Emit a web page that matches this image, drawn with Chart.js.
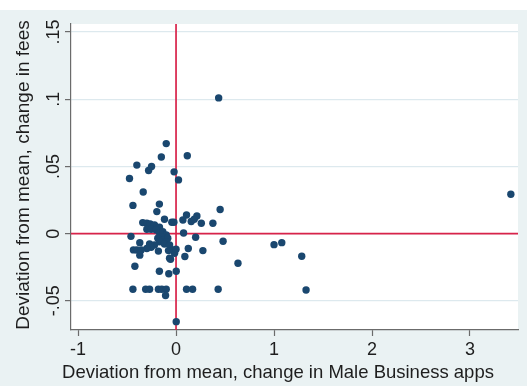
<!DOCTYPE html>
<html>
<head>
<meta charset="utf-8">
<script src="https://cdn.jsdelivr.net/npm/chart.js@4.4.1/dist/chart.umd.min.js"></script>
<style>
  html, body { margin: 0; padding: 0; background: #eaf2f3; }
  #wrap { width: 527px; height: 386px; position: relative; }
</style>
</head>
<body>
<div id="wrap"><canvas id="c" width="527" height="386"></canvas></div>
<script>
// Deviation from mean: change in Male Business apps (x) vs change in fees (y)
const devApps = [
  0.435, 0.115, -0.10, -0.15, -0.40, -0.25, -0.28, -0.02, 0.025, -0.475,
  -0.335, -0.44, -0.17, -0.196, 0.45, -0.118, -0.043, -0.022, 0.107, 0.07,
  0.155, 0.213, 0.186, 0.258, 0.376,
  -0.34, -0.298, -0.264, -0.22, -0.169, -0.298, -0.254, -0.203, -0.169, -0.135,
  -0.10, -0.151, -0.186, -0.135, -0.084, -0.10, -0.169, -0.22, -0.27, -0.254,
  -0.298, -0.118, -0.066, -0.033, -0.015, -0.066,
  -0.46, 0.077, 0.2, 0.48, -0.37, -0.435, -0.40, -0.356, -0.37, -0.18,
  -0.077, 0.0, 0.125, 0.274, -0.056, 0.09, 0.632, -0.42, -0.17, -0.074, 0.002,
  -0.44, -0.31, -0.27, -0.18, -0.145, -0.10, 0.107, 0.169, 0.43, -0.107, 0.002,
  1.0, 1.079, 1.283, 1.327, 3.417
];
const devFees = [
  0.101, 0.058, 0.067, 0.057, 0.051, 0.050, 0.047, 0.046, 0.040, 0.041,
  0.031, 0.021, 0.022, 0.0164, 0.018, 0.0107, 0.0085, 0.0085, 0.0139, 0.0102,
  0.009, 0.0132, 0.0107, 0.0077, 0.0077,
  0.0082, 0.0077, 0.0072, 0.0065, 0.0048, 0.0033, 0.0033, 0.0028, 0.0007, 0.0015,
  -0.001, -0.0022, -0.0034, -0.0047, -0.0034, -0.006, -0.006, -0.0084, -0.0077, -0.0101,
  -0.011, -0.0077, -0.0084, -0.0121, -0.0146, -0.0183,
  -0.002, 0.0005, -0.0027, -0.0057, -0.0067, -0.0121, -0.0121, -0.0121, -0.016, -0.013,
  -0.0126, -0.0116, -0.011, -0.0126, -0.019, -0.017, -0.022, -0.0243, -0.028, -0.0298, -0.028,
  -0.0414, -0.0414, -0.0414, -0.0414, -0.0414, -0.0414, -0.0414, -0.0414, -0.0414, -0.046, -0.0655,
  -0.0082, -0.0067, -0.0168, -0.0419, 0.0293
];
const xTicks = [-1, 0, 1, 2, 3];
const xTickLabels = ['-1', '0', '1', '2', '3'];
const yTicks = [-0.05, 0, 0.05, 0.1, 0.15];
const yTickLabels = ['-.05', '0', '.05', '.1', '.15'];
const xTitle = 'Deviation from mean, change in Male Business apps';
const yTitle = 'Deviation from mean, change in fees';

const points = devApps.map((x, i) => ({ x: x, y: devFees[i] }));

const BG = '#eaf2f3';
const AXIS = '#6b6b6b';
const REF = '#d8234a';
const TEXT = '#1e1e1e';
const FONT = '"Liberation Sans", Arial, sans-serif';

const decor = {
  id: 'decor',
  beforeDraw(chart) {
    const { ctx, chartArea: a } = chart;
    ctx.save();
    ctx.fillStyle = BG;
    ctx.fillRect(0, 0, chart.width, chart.height);
    ctx.fillStyle = '#ffffff';
    ctx.fillRect(0, 0, chart.width, 10);
    ctx.fillRect(a.left, a.top, a.right - a.left, a.bottom - a.top);
    ctx.restore();
  },
  beforeDatasetsDraw(chart) {
    const { ctx, chartArea: a, scales } = chart;
    const x0 = scales.x.getPixelForValue(0);
    const y0 = scales.y.getPixelForValue(0);
    ctx.save();
    ctx.strokeStyle = REF;
    ctx.lineWidth = 1.7;
    ctx.beginPath();
    ctx.moveTo(x0, a.top);
    ctx.lineTo(x0, a.bottom);
    ctx.moveTo(a.left, y0);
    ctx.lineTo(a.right, y0);
    ctx.stroke();
    ctx.restore();
  },
  afterDraw(chart) {
    const { ctx, chartArea: a, scales } = chart;
    ctx.save();
    ctx.fillStyle = TEXT;
    ctx.textAlign = 'center';
    ctx.textBaseline = 'alphabetic';

    // y tick labels, rotated to read upward
    ctx.font = '18px ' + FONT;
    yTicks.forEach((v, i) => {
      const py = scales.y.getPixelForValue(v);
      ctx.save();
      ctx.translate(58.5, py);
      ctx.rotate(-Math.PI / 2);
      ctx.fillText(yTickLabels[i], 0, 0);
      ctx.restore();
    });

    // x tick labels
    xTicks.forEach((v, i) => {
      ctx.fillText(xTickLabels[i], scales.x.getPixelForValue(v), 355);
    });

    // x title
    ctx.font = '18.5px ' + FONT;
    ctx.fillText(xTitle, 278, 378);

    // y title
    ctx.font = '19px ' + FONT;
    ctx.save();
    ctx.translate(29, 175);
    ctx.rotate(-Math.PI / 2);
    ctx.fillText(yTitle, 0, 0);
    ctx.restore();
    ctx.restore();
  }
};

new Chart(document.getElementById('c'), {
  type: 'scatter',
  data: {
    datasets: [{
      data: points,
      backgroundColor: '#1a476f',
      borderColor: '#1a476f',
      borderWidth: 0,
      pointRadius: 3.7,
      pointHoverRadius: 3.7
    }]
  },
  options: {
    responsive: false,
    animation: false,
    devicePixelRatio: 1,
    layout: { padding: { top: 24, right: 9, left: 0, bottom: 0 } },
    plugins: { legend: { display: false }, tooltip: { enabled: false } },
    scales: {
      x: {
        type: 'linear',
        min: -1.072,
        max: 3.49,
        afterBuildTicks(s) { s.ticks = xTicks.map(v => ({ value: v })); },
        afterFit(s) { s.height = 56; },
        border: { display: true, color: AXIS, width: 1.2 },
        grid: { drawOnChartArea: false, drawTicks: true, tickLength: 6, tickColor: AXIS, tickWidth: 1.2 },
        ticks: { display: false }
      },
      y: {
        type: 'linear',
        min: -0.0717,
        max: 0.156,
        afterBuildTicks(s) { s.ticks = yTicks.map(v => ({ value: v })); },
        afterFit(s) { s.width = 71; },
        border: { display: true, color: AXIS, width: 1.2 },
        grid: { color: '#dde9ee', lineWidth: 1.2, drawTicks: true, tickLength: 6, tickColor: AXIS, tickWidth: 1.2 },
        ticks: { display: false }
      }
    }
  },
  plugins: [decor]
});
</script>
</body>
</html>
